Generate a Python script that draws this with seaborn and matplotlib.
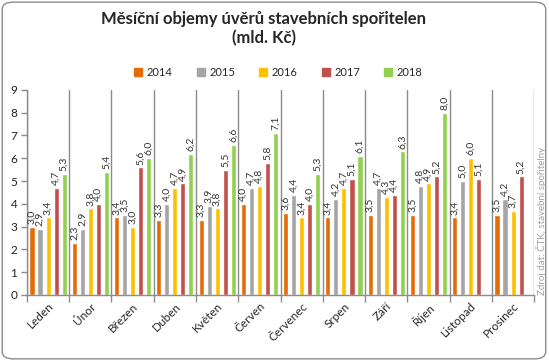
import matplotlib.pyplot as plt
import numpy as np
import pandas as pd
import seaborn as sns
from matplotlib.patches import FancyBboxPatch
from matplotlib.ticker import FixedLocator

months = ['Leden', 'Únor', 'Březen', 'Duben', 'Květen', 'Červen', 'Červenec',
          'Srpen', 'Září', 'Říjen', 'Listopad', 'Prosinec']
years = ['2014', '2015', '2016', '2017', '2018']

v2014 = [3.0, 2.3, 3.4, 3.3, 3.3, 4.0, 3.6, 3.4, 3.5, 3.5, 3.4, 3.5]
v2015 = [2.9, 2.9, 3.5, 4.0, 3.9, 4.7, 4.4, 4.2, 4.7, 4.8, 5.0, 4.2]
v2016 = [3.4, 3.8, 3.0, 4.7, 3.8, 4.8, 3.4, 4.7, 4.3, 4.9, 6.0, 3.7]
v2017 = [4.7, 4.0, 5.6, 4.9, 5.5, 5.8, 4.0, 5.1, 4.4, 5.2, 5.1, 5.2]
v2018 = [5.3, 5.4, 6.0, 6.2, 6.6, 7.1, 5.3, 6.1, 6.3, 8.0, np.nan, np.nan]

colors = ['#E36C09', '#A5A5A5', '#FFC000', '#C0504D', '#92D050']

# long format for seaborn
rows = []
for year, vals in zip(years, [v2014, v2015, v2016, v2017, v2018]):
    for m, v in zip(months, vals):
        rows.append({'mesic': m, 'rok': year, 'objem': v})
df = pd.DataFrame(rows)

sns.set_theme(style="white")
plt.rcParams['font.family'] = ['Lato', 'DejaVu Sans']

fig = plt.figure(figsize=(5.49, 3.61), dpi=100)
ax = fig.add_axes([0.049, 0.183, 0.924, 0.568])

sns.barplot(data=df, x='mesic', y='objem', hue='rok', order=months, hue_order=years,
            palette=colors, width=0.95, gap=0.37, saturation=1, ax=ax, legend=False)

for c in ax.containers:
    labels = ['' if np.isnan(v) else f'{v:.1f}'.replace('.', ',') for v in c.datavalues]
    ax.bar_label(c, labels=labels, rotation=90, padding=2, fontsize=7.5, color='#333333')

ax.set_ylim(0, 9)
ax.set_xlim(-0.5, len(months) - 0.5)
ax.set_yticks(range(0, 10))
ax.set_xlabel('')
ax.set_ylabel('')

# category separators
ax.xaxis.set_minor_locator(FixedLocator(np.arange(-0.5, len(months), 1)))
ax.grid(which='minor', axis='x', color='#8C8C8C', linewidth=1)
ax.tick_params(axis='x', which='major', length=0, pad=4)
ax.tick_params(axis='x', which='minor', length=5, color='#8C8C8C', width=1, bottom=True)
ax.tick_params(axis='y', length=4, color='#8C8C8C', width=1, left=True, labelsize=8.5, pad=3)
ax.set_xticks(range(len(months)))
ax.set_xticklabels(months, rotation=45, ha='right', rotation_mode='anchor', fontsize=8.5)
for lbl in ax.get_yticklabels():
    lbl.set_color('#222222')

for side in ['top', 'right']:
    ax.spines[side].set_visible(False)
for side in ['left', 'bottom']:
    ax.spines[side].set_color('#8C8C8C')
    ax.spines[side].set_linewidth(1)

# legend
handles = [plt.Rectangle((0, 0), 1, 1, color=col) for col in colors]
fig.legend(handles, years, loc='center', bbox_to_anchor=(0.507, 0.80), ncol=5,
           frameon=False, fontsize=8, handlelength=0.7, handleheight=0.7,
           handletextpad=0.4, columnspacing=2.2)

fig.text(0.48, 0.92, 'Měsíční objemy úvěrů stavebních spořitelen\n(mld. Kč)',
         ha='center', va='center', fontsize=12, fontweight='bold', linespacing=1.25)

fig.text(0.986, 0.183, 'Zdroj dat: ČTK, stavební spořitelny', rotation=90,
         ha='center', va='bottom', fontsize=7, color='#A0A0A0')

border = FancyBboxPatch((0.004, 0.006), 0.99, 0.988, boxstyle='round,pad=0,rounding_size=0.02',
                        transform=fig.transFigure, facecolor='none', edgecolor='#8C8C8C',
                        linewidth=1)
fig.patches.append(border)

fig.savefig('out.png', dpi=100)
